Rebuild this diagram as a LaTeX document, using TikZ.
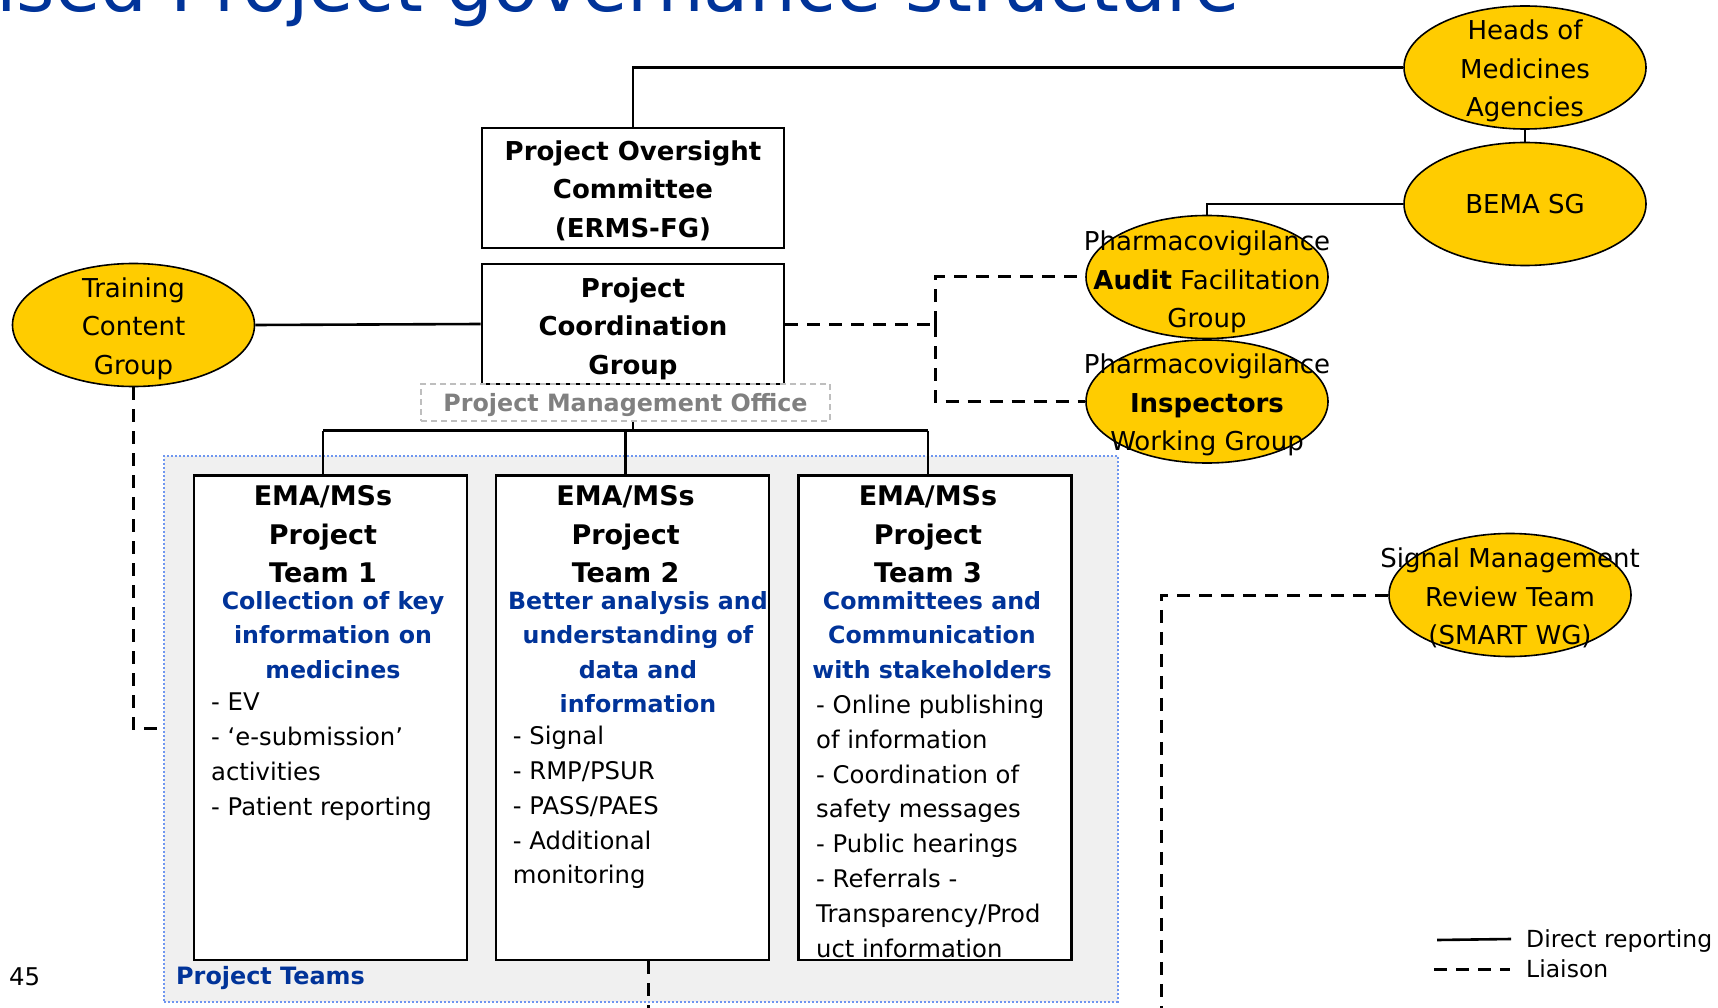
\documentclass[tikz,border=0pt]{standalone}
\usepackage{fontspec}
\setmainfont{DejaVu Sans}
\usetikzlibrary{shapes.geometric}
\definecolor{yell}{RGB}{255,204,0}
\definecolor{eublue}{RGB}{0,51,153}
\definecolor{panel}{RGB}{240,240,240}
\definecolor{dotblue}{RGB}{110,150,240}
\definecolor{pmogray}{RGB}{128,128,128}
\definecolor{pmoedge}{RGB}{190,190,190}
\begin{document}
\begin{tikzpicture}[x=1pt,y=-1pt,
  oval/.style={ellipse, draw=black, line width=1.6pt, fill=yell, minimum width=242pt, minimum height=123pt, inner sep=0pt},
  ovaltext/.style={font=\fontsize{26}{38.5}\selectfont, align=center, inner sep=0pt},
  govbox/.style={rectangle, draw=black, line width=2.7pt, fill=white, minimum width=302pt, minimum height=120pt, inner sep=0pt},
  govtext/.style={align=center, inner sep=0pt, font=\bfseries\fontsize{26}{38.5}\selectfont},
  teambox/.style={rectangle, draw=black, line width=2.7pt, fill=white, minimum width=273pt, minimum height=484.5pt, inner sep=0pt},
  teamhead/.style={font=\bfseries\fontsize{27}{38.5}\selectfont, align=center, anchor=north, inner sep=0pt},
  teamaim/.style={font=\bfseries\fontsize{23.7}{34.4}\selectfont, text=eublue, align=center, anchor=north, inner sep=0pt},
  teamlist/.style={font=\fontsize{24.3}{34.8}\selectfont, align=left, anchor=north west, inner sep=0pt},
  report/.style={line width=2.6pt},
  liaison/.style={line width=3pt, dash pattern=on 13pt off 9pt},
  plainlabel/.style={anchor=base west, inner sep=0pt},
]
\useasboundingbox (0,0) rectangle (1718,1008);
\clip (0,0) rectangle (1718,1008);

% title (cut at the top, as in the reference)
\node[plainlabel, text=eublue, font=\fontsize{73.8}{80}\selectfont] (title) at (-4,12) {ised Project governance structure};

% project teams panel
\node[rectangle, fill=panel, draw=dotblue, line width=2pt, dash pattern=on 2pt off 2pt, minimum width=953.6pt, minimum height=545.5pt, inner sep=0pt] (ptbox) at (640.8,728.75) {};

% ellipses
\node[oval] (hma) at (1525,67.5) {};
\node[oval] (bema) at (1525,204) {};
\node[oval] (tcg) at (133.5,325) {};
\node[oval] (pafg) at (1207,277) {};
\node[oval] (piwg) at (1207,401.5) {};
\node[oval] (smart) at (1510,595) {};

% governance boxes
\node[govbox] (pog) at (633,188) {};
\node[govtext] (pogt) at (633,190.5) {Project Oversight\\Committee\\(ERMS-FG)};
\node[govbox] (pcg) at (633,324) {};
\node[govtext] (pcgt) at (633,328.5) {Project\\Coordination\\Group};
\node[rectangle, draw=pmoedge, line width=2pt, dash pattern=on 6pt off 4pt, minimum width=409pt, minimum height=37pt, inner sep=0pt, text depth=0pt, text=pmogray, font=\bfseries\fontsize{23.8}{28}\selectfont] (pmo) at (625.5,402.5) {Project Management Office};

% team boxes
\node[teambox] (t1) at (330.5,717.75) {};
\node[teambox] (t2) at (632.5,717.75) {};
\node[teambox] (t3) at (934.75,717.75) {};

% bus
\coordinate (b1) at (323,430.5);
\coordinate (b2) at (625.6,430.5);
\coordinate (b3) at (928,430.5);
\draw[report] (b1) -- (b3);
\draw[report] (b1) -- (b1 |- t1.north);
\draw[report] (b2) -- (b2 |- t2.north);
\draw[report] (b3) -- (b3 |- t3.north);
\draw[report] (pcg.south |- pmo.south) -- (pcg.south |- b1);

% team texts
\node[teamhead] (h1) at (323,478.5) {\strut EMA/MSs\\Project\\Team 1};
\node[teamhead] (h2) at (625.6,478.5) {\strut EMA/MSs\\Project\\Team 2};
\node[teamhead] (h3) at (928,478.5) {\strut EMA/MSs\\Project\\Team 3};
\node[teamaim] (a1) at (333,585) {\strut Collection of key\\information on\\medicines};
\node[teamaim] (a2) at (638,585) {\strut Better analysis and\\understanding of\\data and\\information};
\node[teamaim] (a3) at (932,585) {\strut Committees and\\Communication\\with stakeholders};
\node[teamlist] (l1) at (211,686.2) {\strut - EV\\- ‘e-submission’\\activities\\- Patient reporting};
\node[teamlist] (l2) at (512.7,720.2) {\strut - Signal\\- RMP/PSUR\\- PASS/PAES\\- Additional\\monitoring};
\node[teamlist] (l3) at (816,689) {\strut - Online publishing\\of information\\- Coordination of\\safety messages\\- Public hearings\\- Referrals -\\Transparency/Prod\\uct information};

\node[plainlabel, text=eublue, font=\bfseries\fontsize{23.9}{28}\selectfont] (ptl) at (176,984.5) {Project Teams};
\node[plainlabel, font=\fontsize{24.4}{28}\selectfont] (pg) at (9,985.5) {45};

% connectors
\draw[report] (pog.north) |- (hma.west);
\draw[report] (hma.south) -- (bema.north);
\draw[report] (bema.west) -| (pafg.north);
\draw[report] (tcg.east) -- (pcg.west);
\coordinate (lj) at (935,324);
\draw[liaison] (pcg.east) -- (lj);
\draw[liaison] (lj) |- (pafg.west);
\draw[liaison] (lj) |- (piwg.west);
\draw[liaison] (tcg.south) |- (ptbox.west);
\coordinate (sj) at (1161,1012);
\draw[liaison] (smart.west) -| (sj);
\coordinate (tj) at (648.6,1012);
\draw[liaison] (t2.south -| tj) -- (tj);

% ellipse texts
\node[ovaltext] (hmat) at (1525,71) {Heads of\\Medicines\\Agencies};
\node[ovaltext] (bemat) at (1525,204.5) {BEMA SG};
\node[ovaltext] (tcgt) at (133.5,328.5) {Training\\Content\\Group};
\node[ovaltext] (pafgt) at (1207,282) {Pharmacovigilance\\\textbf{Audit} Facilitation\\Group};
\node[ovaltext] (piwgt) at (1207,405) {Pharmacovigilance\\\textbf{Inspectors}\\Working Group};
\node[ovaltext] (smartt) at (1510,598) {Signal Management\\Review Team\\(SMART WG)};

% legend
\coordinate (lg1a) at (1437,940);
\coordinate (lg1b) at (1511,939);
\coordinate (lg2a) at (1434,969);
\coordinate (lg2b) at (1510,969);
\draw[report] (lg1a) -- (lg1b);
\draw[liaison] (lg2a) -- (lg2b);
\node[plainlabel, font=\fontsize{23.5}{28}\selectfont] (lgt1) at (1526,947.5) {Direct reporting};
\node[plainlabel, font=\fontsize{23.5}{28}\selectfont] (lgt2) at (1526,977.5) {Liaison};
\end{tikzpicture}
\end{document}
